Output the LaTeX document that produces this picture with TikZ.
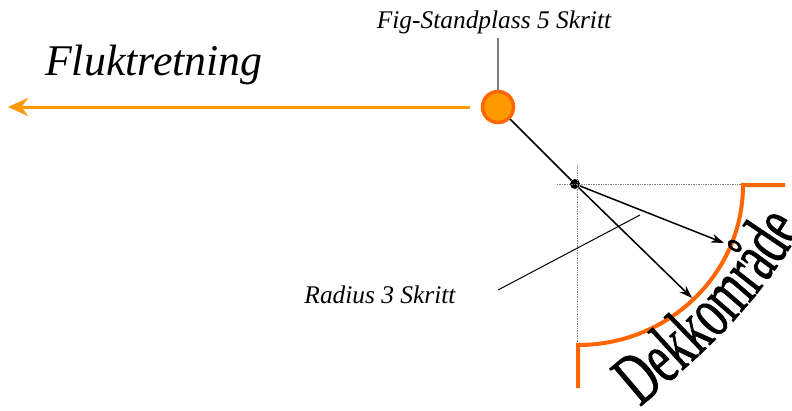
\documentclass[tikz,border=0pt]{standalone}
\usepackage{fontspec}
\setmainfont{Liberation Serif}
\newfontfamily\wordartfont[FakeStretch=0.63,FakeBold=0.8]{Liberation Serif}
\usetikzlibrary{arrows.meta,decorations.text}
\definecolor{flukt}{HTML}{FF9900}
\definecolor{dekk}{HTML}{FF6600}

\begin{document}
\begin{tikzpicture}[x=1bp,y=-1bp,>={Stealth[length=13bp,width=9bp]},
  lbl/.style={font=\itshape\fontsize{25.5}{30}\selectfont,inner sep=0pt}]
  \useasboundingbox (0,0) rectangle (792,410);
  % standplass
  \node[circle,fill=flukt,draw=dekk,line width=3.5bp,minimum size=31bp,inner sep=0pt] (stand) at (498,107) {};
  \node[lbl,anchor=base] (standtxt) at (494,28) {Fig-Standplass 5 Skritt};
  \draw[gray,line width=1.2bp] (stand.north) -- (stand.north |- 0,38);
  % fluktretning
  \coordinate (fluktend) at (8,107);
  \draw[flukt,line width=3bp,shorten <=11bp,-{Stealth[length=20bp,width=18bp]}] (stand.west) -- (fluktend);
  \node[font=\itshape\fontsize{44}{50}\selectfont,anchor=base west,inner sep=0pt] (flukttxt) at (45,75) {Fluktretning};
  % skytter
  \node[circle,fill,inner sep=0pt,minimum size=10bp] (skytter) at (575,184) {};
  \draw[line width=1.5bp] (stand) -- (skytter);
  \draw[densely dotted,gray,line width=0.7bp] (557,184) -- (745,184);
  \draw[densely dotted,gray,line width=0.7bp] (577,165) -- (577,345);
  % dekkomraade
  \draw[dekk,line width=4bp] (785,185) -- (743,185) arc (0:90:165 and 160) -- (578,388);
  \path[decorate,decoration={text along path,text align=left,
    text={|\wordartfont\fontsize{75}{75}\selectfont|Dekkområde}}]
    (640,407) to[out=40,in=-120] (812,212);
  % radius
  \coordinate (treff1) at (724,243);
  \coordinate (treff2) at (692,298);
  \draw[->,line width=1.5bp] (skytter) -- (treff1);
  \draw[->,line width=1.5bp] (skytter) -- (treff2);
  \node[lbl,anchor=base] (radtxt) at (380,303) {Radius 3 Skritt};
  \coordinate (radstart) at (498,290);
  \coordinate (radend) at (640,215);
  \draw[line width=1bp] (radstart) -- (radend);
\end{tikzpicture}
\end{document}
